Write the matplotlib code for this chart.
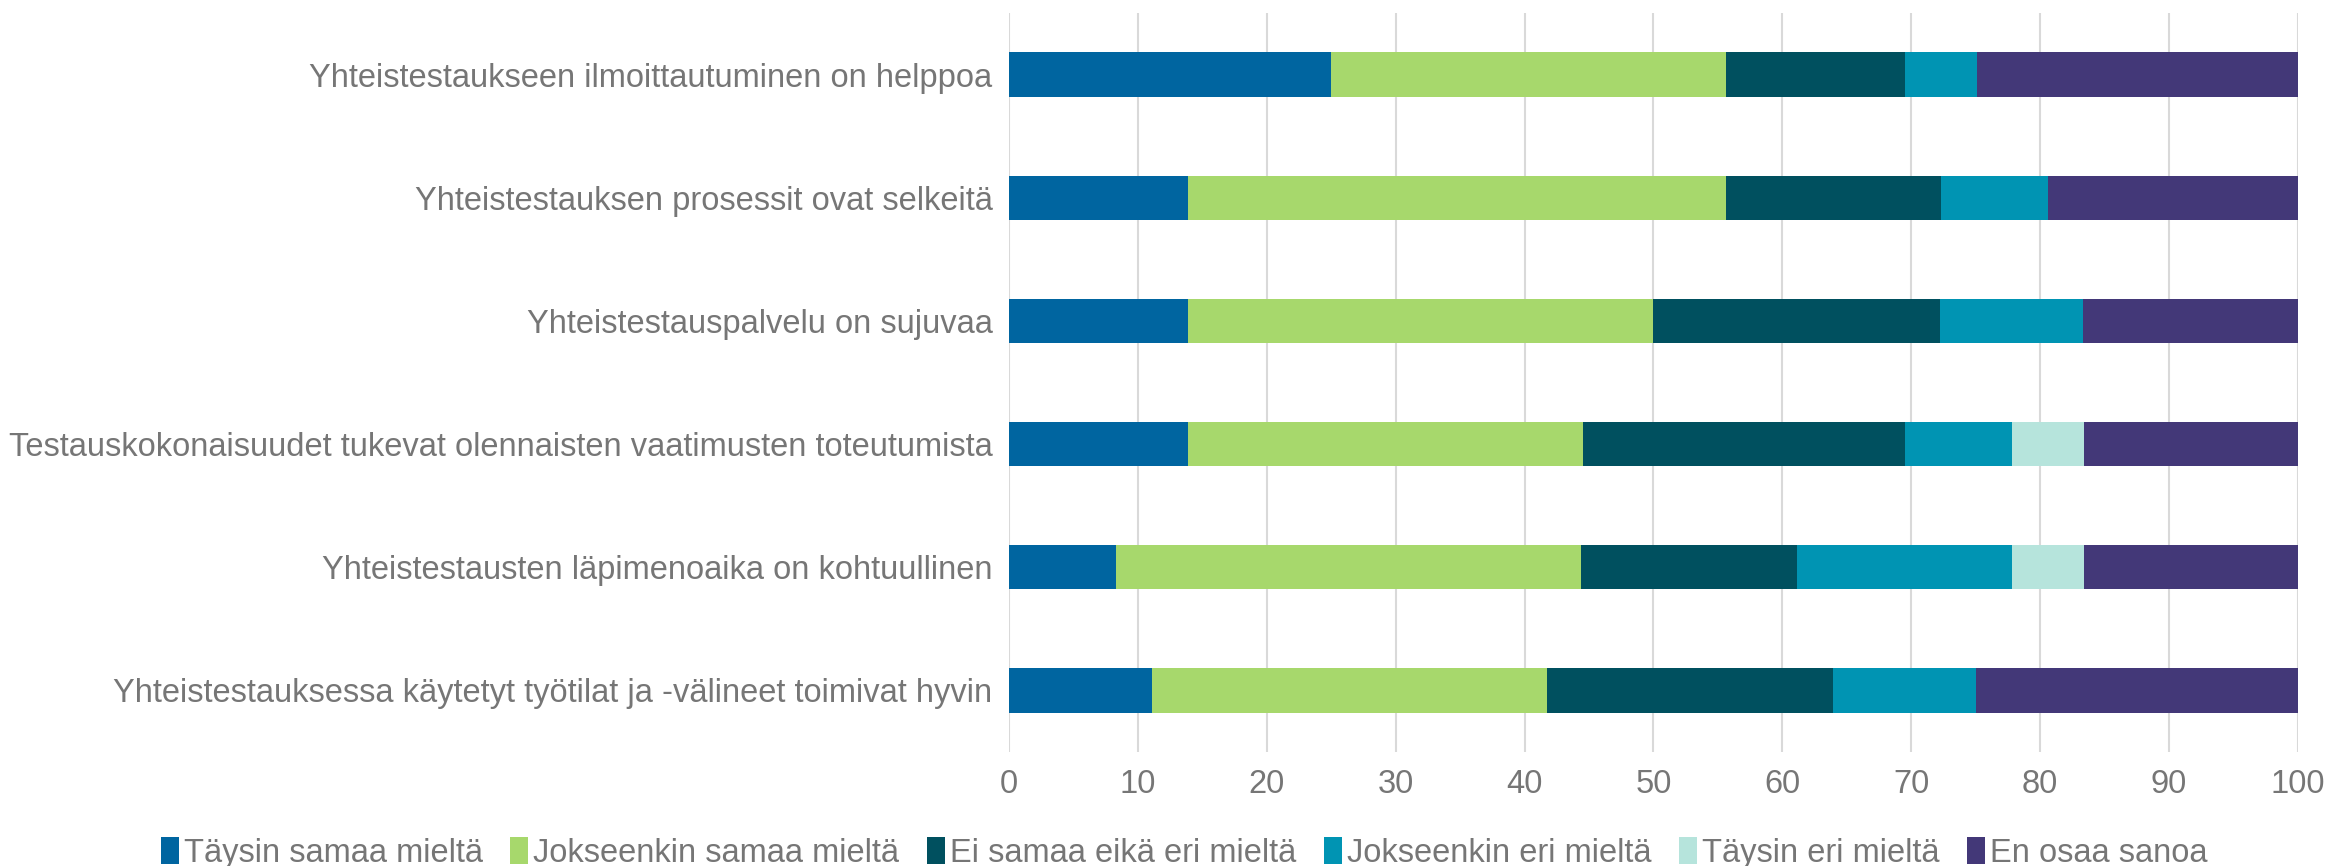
import numpy as np
import matplotlib.pyplot as plt
from matplotlib.patches import Patch

plt.rcParams['font.family'] = ['Liberation Sans', 'DejaVu Sans']

categories = [
    "Yhteistestaukseen ilmoittautuminen on helppoa",
    "Yhteistestauksen prosessit ovat selkeitä",
    "Yhteistestauspalvelu on sujuvaa",
    "Testauskokonaisuudet tukevat olennaisten vaatimusten toteutumista",
    "Yhteistestausten läpimenoaika on kohtuullinen",
    "Yhteistestauksessa käytetyt työtilat ja -välineet toimivat hyvin",
]
series_names = [
    "Täysin samaa mieltä",
    "Jokseenkin samaa mieltä",
    "Ei samaa eikä eri mieltä",
    "Jokseenkin eri mieltä",
    "Täysin eri mieltä",
    "En osaa sanoa",
]
# percentages per category (top to bottom)
taysin_samaa = [25.0, 13.9, 13.9, 13.9, 8.3, 11.1]
jokseenkin_samaa = [30.6, 41.7, 36.1, 30.6, 36.1, 30.6]
ei_samaa_eika_eri = [13.9, 16.7, 22.2, 25.0, 16.7, 22.2]
jokseenkin_eri = [5.6, 8.3, 11.1, 8.3, 16.7, 11.1]
taysin_eri = [0.0, 0.0, 0.0, 5.6, 5.6, 0.0]
en_osaa = [25.0, 19.4, 16.7, 16.7, 16.7, 25.0]

colors = ["#0065A0", "#A7D86C", "#00505F", "#0094B3", "#B6E4DC", "#433878"]
series = [taysin_samaa, jokseenkin_samaa, ei_samaa_eika_eri,
          jokseenkin_eri, taysin_eri, en_osaa]

fig = plt.figure(figsize=(23.31, 8.66), dpi=100)
ax = fig.add_axes([0.4329, 0.1316, 0.5529, 0.8534])

y = np.arange(len(categories))[::-1]
left = np.zeros(len(categories))
for vals, col, name in zip(series, colors, series_names):
    vals = np.array(vals)
    ax.barh(y, vals, left=left, height=0.36, color=col, label=name,
            edgecolor='none', zorder=3)
    left += vals

text_col = '#767676'
ax.set_xlim(0, 100)
ax.set_ylim(-0.5, len(categories) - 0.5)
ax.set_xticks(range(0, 101, 10))
ax.set_yticks(y)
ax.set_yticklabels(categories)
ax.tick_params(axis='both', length=0, labelsize=23.5, labelcolor=text_col)
ax.tick_params(axis='y', pad=12)
ax.tick_params(axis='x', pad=12)
ax.grid(axis='x', color='#D9D9D9', linewidth=1.5, zorder=0)
for s in ax.spines.values():
    s.set_visible(False)

handles = [Patch(facecolor=c, label=n) for c, n in zip(colors, series_names)]
fig.legend(handles=handles, loc='lower center', ncol=6, frameon=False,
           fontsize=23.5, labelcolor=text_col, handlelength=0.55,
           handleheight=0.9, handletextpad=0.15, columnspacing=0.85,
           bbox_to_anchor=(0.508, -0.037))

fig.savefig('out.png', dpi=100)
